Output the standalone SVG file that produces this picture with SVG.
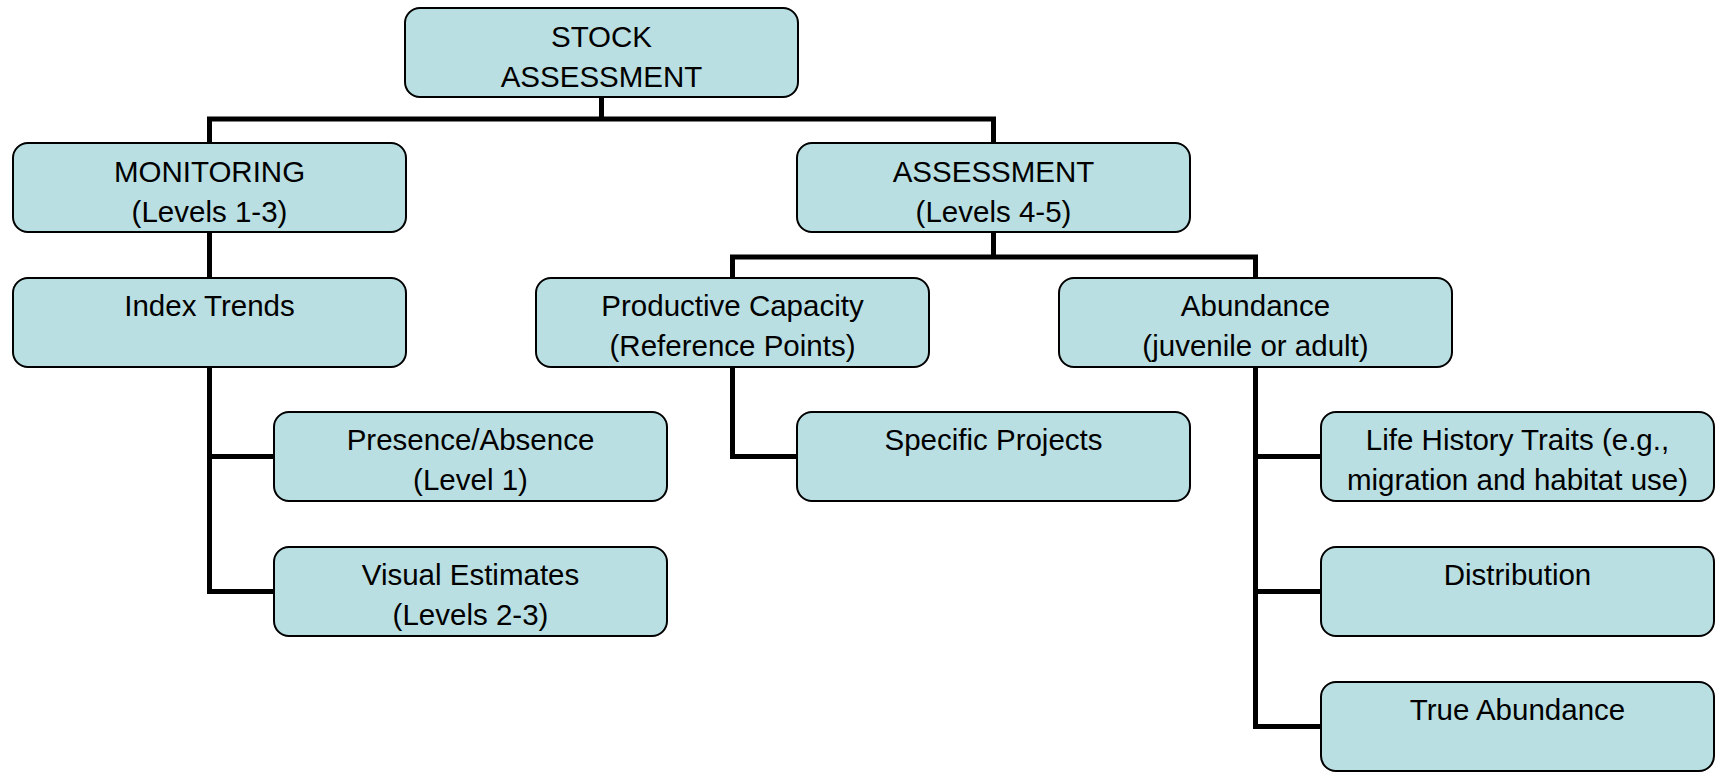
<svg xmlns="http://www.w3.org/2000/svg" width="1719" height="772" viewBox="0 0 1719 772">
<style>
.box{fill:#B9DFE2;stroke:#000;stroke-width:2}
.t{font-family:"Liberation Sans",Arial,sans-serif;font-size:29.5px;fill:#000;text-anchor:middle}
.c{fill:none;stroke:#000;stroke-width:5;stroke-linejoin:miter}
</style>
<rect width="1719" height="772" fill="#fff"/>
<g id="connectors">
<path class="c" d="M601.5 97 V119 M209.5 143 V119 H993.5 V143"/>
<path class="c" d="M209.5 232 V278"/>
<path class="c" d="M209.5 367 V591.5 H274 M209.5 456.5 H274"/>
<path class="c" d="M993.5 232 V257 M732.5 278 V257 H1255.5 V278"/>
<path class="c" d="M732.5 367 V456.5 H797"/>
<path class="c" d="M1255.5 367 V726.5 H1321 M1255.5 456.5 H1321 M1255.5 591.5 H1321"/>
</g>
<g id="stock"><rect class="box" x="405" y="8" width="393" height="89" rx="15"/><text class="t" x="601.5" y="47">STOCK</text><text class="t" x="601.5" y="87">ASSESSMENT</text></g>
<g id="monitoring"><rect class="box" x="13" y="143" width="393" height="89" rx="15"/><text class="t" x="209.5" y="182">MONITORING</text><text class="t" x="209.5" y="222">(Levels 1-3)</text></g>
<g id="assessment"><rect class="box" x="797" y="143" width="393" height="89" rx="15"/><text class="t" x="993.5" y="182">ASSESSMENT</text><text class="t" x="993.5" y="222">(Levels 4-5)</text></g>
<g id="index"><rect class="box" x="13" y="278" width="393" height="89" rx="15"/><text class="t" x="209.5" y="316">Index Trends</text></g>
<g id="productive"><rect class="box" x="536" y="278" width="393" height="89" rx="15"/><text class="t" x="732.5" y="316">Productive Capacity</text><text class="t" x="732.5" y="356">(Reference Points)</text></g>
<g id="abundance"><rect class="box" x="1059" y="278" width="393" height="89" rx="15"/><text class="t" x="1255.5" y="316">Abundance</text><text class="t" x="1255.5" y="356">(juvenile or adult)</text></g>
<g id="presence"><rect class="box" x="274" y="412" width="393" height="89" rx="15"/><text class="t" x="470.5" y="450">Presence/Absence</text><text class="t" x="470.5" y="490">(Level 1)</text></g>
<g id="specific"><rect class="box" x="797" y="412" width="393" height="89" rx="15"/><text class="t" x="993.5" y="450">Specific Projects</text></g>
<g id="lifehistory"><rect class="box" x="1321" y="412" width="393" height="89" rx="15"/><text class="t" x="1517.5" y="450">Life History Traits (e.g.,</text><text class="t" x="1517.5" y="490">migration and habitat use)</text></g>
<g id="visual"><rect class="box" x="274" y="547" width="393" height="89" rx="15"/><text class="t" x="470.5" y="585">Visual Estimates</text><text class="t" x="470.5" y="625">(Levels 2-3)</text></g>
<g id="distribution"><rect class="box" x="1321" y="547" width="393" height="89" rx="15"/><text class="t" x="1517.5" y="585">Distribution</text></g>
<g id="trueabundance"><rect class="box" x="1321" y="682" width="393" height="89" rx="15"/><text class="t" x="1517.5" y="720">True Abundance</text></g>
</svg>
